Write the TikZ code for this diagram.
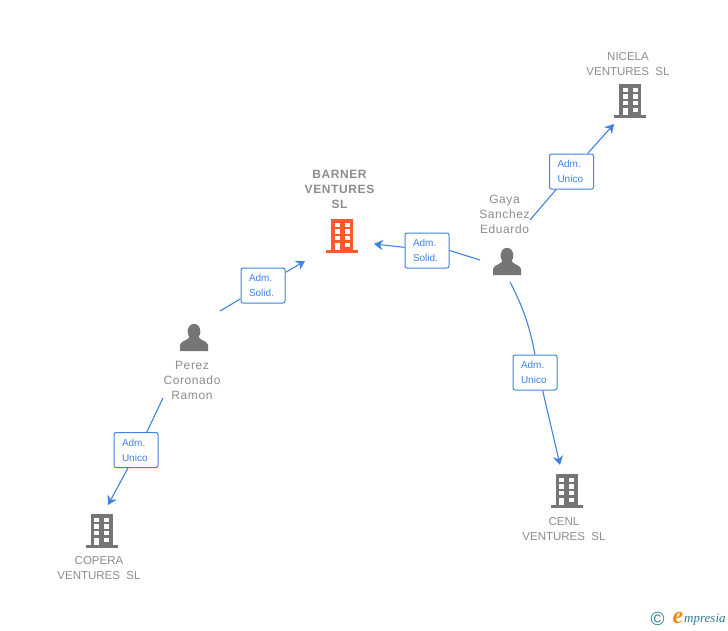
\documentclass[tikz,border=0pt]{standalone}
\usepackage{fontspec}
\setmainfont{Liberation Sans}
\newfontfamily\logofont{Liberation Serif}
\usetikzlibrary{positioning,arrows.meta}
\definecolor{iconGray}{HTML}{757575}
\definecolor{textGray}{HTML}{8C8C8C}
\definecolor{linkBlue}{HTML}{3F83E2}
\definecolor{mainOrange}{HTML}{FC5A2C}
\definecolor{logoTeal}{HTML}{2F7A93}
\definecolor{logoOrange}{HTML}{F08A1D}
\tikzset{
  entity/.style  = {align=center, text=textGray, font=\fontsize{11.5}{15}\selectfont, inner sep=0pt},
  mainentity/.style = {entity, font=\fontsize{12}{15}\selectfont\bfseries\addfontfeature{LetterSpace=5}},
  persona/.style = {entity, font=\fontsize{12}{15}\selectfont\addfontfeature{LetterSpace=5}},
  role/.style    = {draw=linkBlue, line width=1pt, fill=white, rounded corners=2pt, text=linkBlue,
                   minimum height=35pt, inner sep=0pt, text width=28pt, inner xsep=8pt, align=left,
                   font=\fontsize{10}{15}\selectfont},
  edge/.style    = {draw=linkBlue, line width=1.1pt},
  post/.style    = {edge, -{Stealth[length=9pt,width=10.5pt,inset=3pt]}},
  building/.pic  = {
    \fill[pic actions] (-11,-17) rectangle (11,14);
    \fill[pic actions] (-16,13.5) rectangle (16,16.5);
    \foreach \row in {-13.5,-6.7,0}{
      \fill[white] (-7.5,\row) rectangle (-2.5,\row+4.2);
      \fill[white] (2.5,\row) rectangle (7.5,\row+4.2);
    }
    \fill[white] (-7.5,6.7) rectangle (-2.5,14);
    \fill[white] (2.5,6.7) rectangle (7.5,10.7);
  },
  person/.pic    = {
    \fill[iconGray] (0,-6) ellipse (6.4 and 7.7);
    \fill[iconGray] (-14,13.5) -- (-14,7.5) .. controls (-13,2.5) and (-5,3.5) .. (-4,-2)
      -- (4,-2) .. controls (5,3.5) and (13,2.5) .. (14,7.5) -- (14,13.5) -- cycle;
  }
}
\begin{document}
\begin{tikzpicture}[x=1pt,y=-1pt]
  \useasboundingbox (0,0) rectangle (728,630);

  % companies
  \pic[fill=mainOrange] (barner) at (342,236) {building};
  \pic[fill=iconGray] (nicela) at (630,101) {building};
  \pic[fill=iconGray] (cenl) at (566.5,491) {building};
  \pic[fill=iconGray] (copera) at (101.5,531) {building};
  \node[mainentity] (barnerName) at (339.5,189) {BARNER\\VENTURES\\SL};
  \node[entity] (nicelaName) at (628,64.5) {NICELA\\VENTURES\ \ SL};
  \node[entity] (cenlName) at (564,529.5) {CENL\\VENTURES\ \ SL};
  \node[entity] (coperaName) at (99,568.5) {COPERA\\VENTURES\ \ SL};

  % people
  \pic (gaya) at (507,261.5) {person};
  \pic (perez) at (194,337.5) {person};
  \node[persona] (gayaName) at (504.5,214) {Gaya\\Sanchez\\Eduardo};
  \node[persona] (perezName) at (192,380) {Perez\\Coronado\\Ramon};

  % free ends of the links
  \coordinate (gayaW) at (480,260);
  \coordinate (gayaN) at (530,220);
  \coordinate (gayaS) at (510,282);
  \coordinate (perezN) at (220,311);
  \coordinate (perezS) at (163,398);
  \coordinate (barnerE) at (374,244);
  \coordinate (barnerW) at (305,261);
  \coordinate (nicelaS) at (614,124);
  \coordinate (cenlN) at (560,465);
  \coordinate (coperaN) at (108,505);

  % role boxes
  \node[role] (roleBarnerE) at (427,250.5) {Adm.\\Solid.};
  \node[role] (roleBarnerW) at (263,285.5) {Adm.\\Solid.};
  \node[role] (roleNicela) at (571.5,171.5) {Adm.\\Unico};
  \node[role] (roleCenl) at (535,372.5) {Adm.\\Unico};
  \node[role] (roleCopera) at (136,450) {Adm.\\Unico};

  % links
  \draw[edge] (gayaW) -- (roleBarnerE.east);
  \draw[post] (roleBarnerE.172) -- (barnerE);
  \draw[edge] (perezN) -- (roleBarnerW);
  \draw[post] (roleBarnerW) -- (barnerW);
  \draw[edge] (gayaN) -- (roleNicela);
  \draw[post] (roleNicela) -- (nicelaS);
  \draw[edge] (gayaS) to[bend left=8] (roleCenl.north);
  \draw[post] (roleCenl.-67) -- (cenlN);
  \draw[edge] (perezS) -- (roleCopera.59);
  \draw[post] (roleCopera.-114) -- (coperaN);

  % logo
  \node[text=logoTeal, inner sep=0pt, font=\fontsize{19}{19}\selectfont] (logoC) at (657.5,619) {©};
  \node[text=logoOrange, inner sep=0pt, anchor=base, font=\logofont\bfseries\itshape\fontsize{24}{24}\selectfont] (logoE) at (678,623) {e};
  \node[text=logoTeal, inner sep=0pt, anchor=base west, font=\logofont\itshape\fontsize{13}{13}\selectfont] (logoText) at (684,622.7) {mpresia};
\end{tikzpicture}
\end{document}
